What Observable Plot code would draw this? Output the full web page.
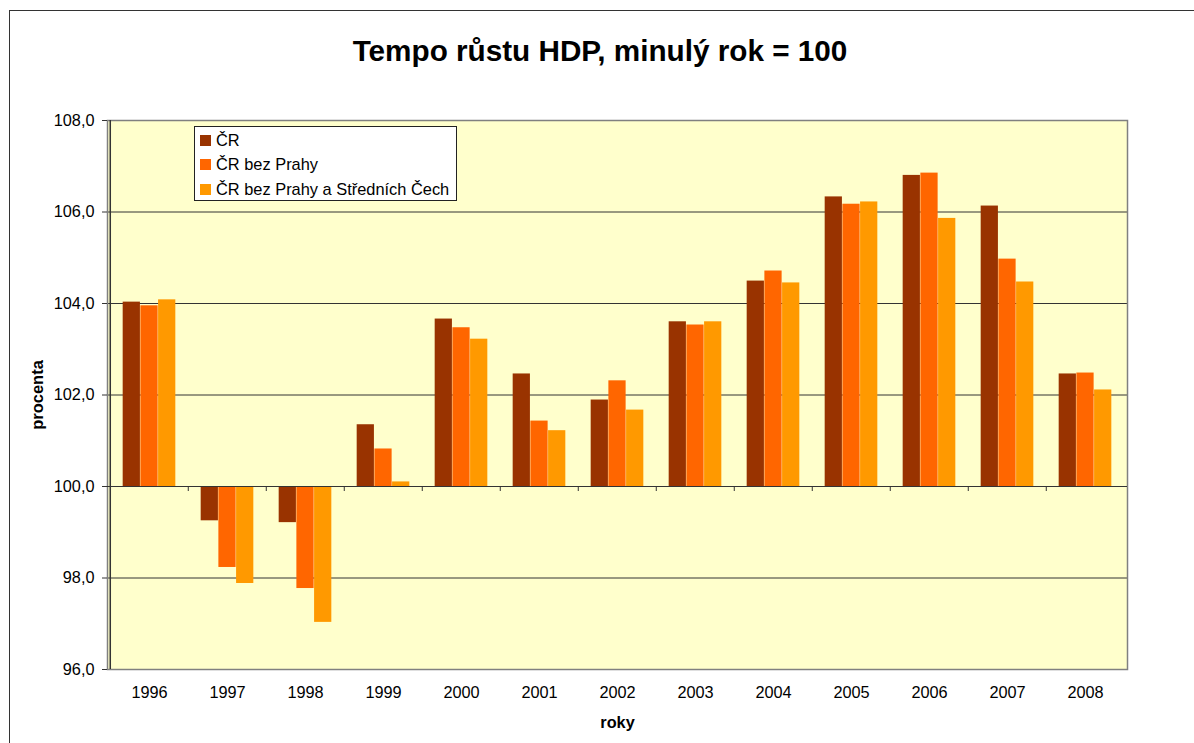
<!DOCTYPE html>
<html>
<head>
<meta charset="utf-8">
<script src="https://cdn.jsdelivr.net/npm/d3@7"></script>
<script src="https://cdn.jsdelivr.net/npm/@observablehq/plot@0.6"></script>
<style>
  html, body { margin: 0; padding: 0; background: #fff; overflow: hidden; }
  #wrap { position: relative; width: 1194px; height: 743px; font-family: "Liberation Sans", Arial, sans-serif; }
  #outer { position: absolute; left: 9px; top: 10px; width: 1300px; height: 900px; border: 1.5px solid #333; box-sizing: border-box; pointer-events: none; }
  #title { position: absolute; left: 0; top: 36px; width: 1200px; text-align: center; font-size: 29.7px; line-height: 30px; font-weight: bold; color: #000; }
  #legend { position: absolute; left: 194px; top: 126px; width: 263px; height: 75px; box-sizing: border-box; border: 1px solid #222; background: #fff; padding: 1px 0 0 5px; }
  .item { display: flex; align-items: center; height: 24.5px; font-size: 16.4px; color: #000; }
  .sw { width: 11px; height: 11px; margin-right: 5px; flex: none; }
  #chart { position: absolute; left: 0; top: 0; }
</style>
</head>
<body>
<div id="wrap">
  <div id="chart"></div>
  <div id="outer"></div>
  <div id="title">Tempo růstu HDP, minulý rok = 100</div>
  <div id="legend"></div>
</div>
<script>
// ---- data ----
const years = [1996, 1997, 1998, 1999, 2000, 2001, 2002, 2003, 2004, 2005, 2006, 2007, 2008];
const seriesNames = ["ČR", "ČR bez Prahy", "ČR bez Prahy a Středních Čech"];
const cr         = [104.03, 99.25, 99.21, 101.35, 103.66, 102.46, 101.89, 103.60, 104.49, 106.33, 106.80, 106.13, 102.46];
const crBezPrahy = [103.95, 98.23, 97.77, 100.82, 103.47, 101.43, 102.31, 103.53, 104.71, 106.17, 106.85, 104.97, 102.48];
const crBezPrahyStc = [104.08, 97.88, 97.03, 100.10, 103.22, 101.22, 101.67, 103.60, 104.45, 106.22, 105.86, 104.47, 102.11];
const yTicks = [96, 98, 100, 102, 104, 106, 108];
const colors = ["#993300", "#FF6600", "#FF9900"];

const seriesValues = [cr, crBezPrahy, crBezPrahyStc];

// ---- layout ----
const W = 1194, H = 743;
const mL = 107, mR = 67, mT = 120, mB = 74;
const bw = (W - mL - mR) / years.length;
const barW = 17.7;
const pad = (bw - 3 * barW) / 2;

const fmt = d => d.toFixed(1).replace(".", ",");

const barMarks = seriesValues.map((vals, i) =>
  Plot.barY(years.map((y, j) => ({year: y, value: vals[j], series: seriesNames[i]})), {
    x: "year",
    y1: 100,
    y2: "value",
    fill: colors[i],
    insetLeft: pad + i * barW,
    insetRight: bw - pad - (i + 1) * barW
  })
);

const chart = Plot.plot({
  width: W,
  height: H,
  marginLeft: mL,
  marginRight: mR,
  marginTop: mT,
  marginBottom: mB,
  style: {fontFamily: "'Liberation Sans', Arial, sans-serif", fontSize: "16.3px", color: "#000", background: "transparent"},
  x: {type: "band", domain: years, padding: 0, label: null},
  y: {domain: [96, 108], label: null},
  marks: [
    Plot.frame({fill: "#FFFFCC", stroke: null}),
    Plot.ruleY(yTicks.filter(t => t > 96 && t < 108), {stroke: "#333", strokeWidth: 1}),
    ...barMarks,
    Plot.frame({stroke: "#808080", strokeWidth: 1.5}),
    Plot.ruleY([100], {stroke: "#333", strokeWidth: 1}),
    Plot.ruleX(years.slice(1), {x: d => d, dx: -bw / 2, y1: 100, y2: 100, insetBottom: -5, stroke: "#333"}),
    Plot.ruleX([years[0]], {x: d => d, dx: -bw / 2, stroke: "#333", strokeWidth: 1.5}),
    Plot.axisY({ticks: yTicks, tickFormat: fmt, tickSize: 5, tickPadding: 8, label: null, stroke: "#333", fontSize: 16.3}),
    Plot.axisX({tickSize: 0, tickPadding: 17, tickFormat: d => String(d), label: null, fontSize: 16.3}),
    Plot.text(["procenta"], {text: d => d, frameAnchor: "left", textAnchor: "middle", lineAnchor: "middle", rotate: -90, dx: -70, fontWeight: "bold", fontSize: 16.5}),
    Plot.text(["roky"], {text: d => d, frameAnchor: "bottom", lineAnchor: "middle", dy: 53, fontWeight: "bold", fontSize: 16.3})
  ]
});
document.getElementById("chart").appendChild(chart);

// legend
const legend = document.getElementById("legend");
seriesNames.forEach((name, i) => {
  const item = document.createElement("div");
  item.className = "item";
  const sw = document.createElement("span");
  sw.className = "sw";
  sw.style.background = colors[i];
  const t = document.createElement("span");
  t.textContent = name;
  item.appendChild(sw);
  item.appendChild(t);
  legend.appendChild(item);
});
</script>
</body>
</html>
